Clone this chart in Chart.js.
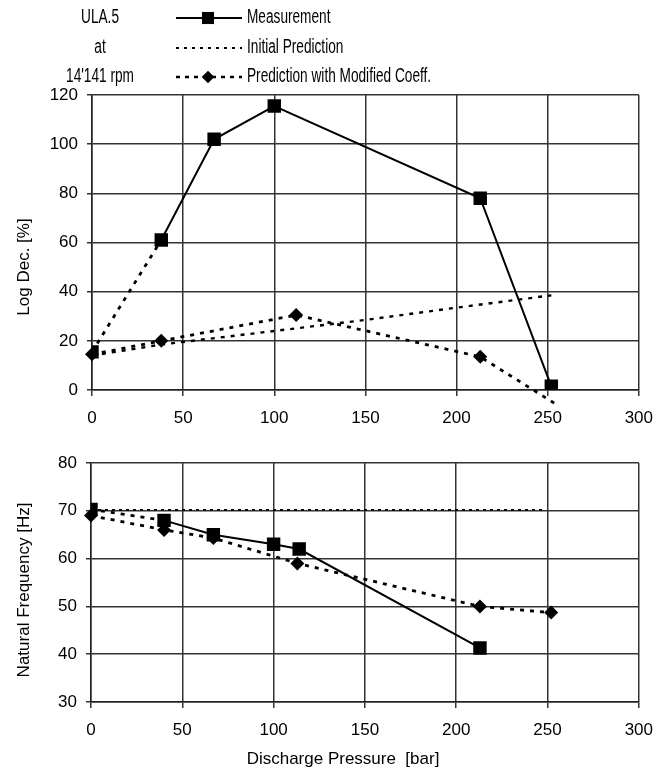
<!DOCTYPE html>
<html>
<head>
<meta charset="utf-8">
<script src="https://cdn.jsdelivr.net/npm/chart.js@4/dist/chart.umd.min.js"></script>
<style>
  html, body { margin: 0; padding: 0; background: #fff; }
  #wrap { position: relative; width: 665px; height: 771px; }
  canvas { position: absolute; left: 0; }
  #topChart { top: 0; }
  #bottomChart { top: 430px; }
</style>
</head>
<body>
<div id="wrap">
  <canvas id="topChart" width="665" height="430"></canvas>
  <canvas id="bottomChart" width="665" height="341"></canvas>
</div>
<script>
const FONT = '"Liberation Sans", Arial, sans-serif';

const xTicks = [0, 50, 100, 150, 200, 250, 300];
const logDecTicks = [0, 20, 40, 60, 80, 100, 120];
const freqTicks = [30, 40, 50, 60, 70, 80];

const headerLines = ['ULA.5', 'at', "14'141 rpm"];
const seriesNames = ['Measurement', 'Initial Prediction', 'Prediction with Modified Coeff.'];

// Log Dec. [%] vs discharge pressure [bar]
const measLogDec = [{x: 0, y: 15.5}, {x: 38, y: 61}, {x: 67, y: 102}, {x: 100, y: 115.5}, {x: 213, y: 78}, {x: 252, y: 1.5}];
const initLogDec = [{x: 0, y: 14}, {x: 38, y: 18.5}, {x: 100, y: 24}, {x: 150, y: 28.5}, {x: 200, y: 33.5}, {x: 252, y: 38.5}];
const modLogDec = [{x: 0, y: 14.5}, {x: 38, y: 20}, {x: 112, y: 30.5}, {x: 213, y: 13.5}, {x: 255, y: -6}];

// Natural frequency [Hz] vs discharge pressure [bar]
const measFreq = [{x: 0, y: 70.3}, {x: 40, y: 68}, {x: 67, y: 65}, {x: 100, y: 63}, {x: 114, y: 62}, {x: 213, y: 41.3}];
const initFreq = [{x: 0, y: 70.2}, {x: 248, y: 70.2}];
const modFreq = [{x: 0, y: 69}, {x: 40, y: 66}, {x: 67, y: 64.3}, {x: 113, y: 59}, {x: 213, y: 50}, {x: 252, y: 48.7}];

const tickFont = {family: FONT, size: 17};

function measSet(data) {
    return {
        label: seriesNames[0],
        data: data,
        borderColor: '#000',
        backgroundColor: '#000',
        borderWidth: 2,
        pointStyle: 'rect',
        pointRadius: 9.5,
        pointHoverRadius: 9.5,
        pointBorderWidth: 0,
        // first segment is drawn dotted in the original
        segment: {
            borderDash: c => c.p0DataIndex === 0 ? [4, 6] : undefined,
            borderWidth: c => c.p0DataIndex === 0 ? 2.8 : undefined
        },
        legendDash: [],
        legendWidth: 2
    };
}

function initSet(data, dash, width) {
    return {
        label: seriesNames[1],
        data: data,
        borderColor: '#000',
        borderWidth: width,
        borderDash: dash,
        pointRadius: 0,
        legendDash: [3, 5],
        legendWidth: 1.8
    };
}

function modSet(data, radii) {
    return {
        label: seriesNames[2],
        data: data,
        borderColor: '#000',
        backgroundColor: '#000',
        borderWidth: 2.8,
        borderDash: [4, 6],
        pointStyle: 'rectRot',
        pointRadius: radii,
        pointHoverRadius: radii,
        pointBorderWidth: 0,
        clip: false,
        legendDash: [4, 5],
        legendWidth: 2.4
    };
}

function scalesFor(yTicks, yWidth, xHeight) {
    return {
        x: {
            type: 'linear',
            min: 0,
            max: 300,
            afterBuildTicks: s => { s.ticks = xTicks.map(v => ({value: v})); },
            afterFit: s => { s.height = xHeight; },
            ticks: {color: '#000', font: tickFont, padding: 12, maxRotation: 0},
            grid: {color: '#333', lineWidth: 1.5, tickLength: 6},
            border: {color: '#222', width: 1.5}
        },
        y: {
            type: 'linear',
            min: yTicks[0],
            max: yTicks[yTicks.length - 1],
            afterBuildTicks: s => { s.ticks = yTicks.map(v => ({value: v})); },
            afterFit: s => { s.width = yWidth; },
            ticks: {color: '#000', font: tickFont, padding: 9},
            grid: {color: '#333', lineWidth: 1.5, tickLength: 5},
            border: {color: '#222', width: 1.5}
        }
    };
}

// squeeze = horizontal scale, the header/legend lettering is condensed
function text(ctx, str, x, y, align, rot, size, squeeze) {
    ctx.save();
    ctx.translate(x, y);
    if (rot) ctx.rotate(rot);
    if (squeeze) ctx.scale(squeeze, 1);
    ctx.font = (size || 17) + 'px ' + FONT;
    ctx.fillStyle = '#000';
    ctx.textAlign = align;
    ctx.textBaseline = 'middle';
    ctx.fillText(str, 0, 0);
    ctx.restore();
}

const headerPlugin = {
    id: 'header',
    afterDraw(chart) {
        const ctx = chart.ctx;
        const rows = [18, 48, 77];
        headerLines.forEach((t, i) => text(ctx, t, 100, rows[i], 'center', 0, 19.5, 0.7));
        chart.data.datasets.forEach((ds, i) => {
            const y = rows[i];
            ctx.save();
            ctx.strokeStyle = '#000';
            ctx.fillStyle = '#000';
            ctx.lineWidth = ds.legendWidth;
            ctx.setLineDash(ds.legendDash);
            ctx.beginPath();
            ctx.moveTo(176, y);
            ctx.lineTo(242, y);
            ctx.stroke();
            ctx.setLineDash([]);
            const r = Array.isArray(ds.pointRadius) ? ds.pointRadius[0] : ds.pointRadius;
            if (r > 0) {
                Chart.helpers.drawPoint(ctx, {pointStyle: ds.pointStyle, radius: r * 0.9, borderWidth: 0, rotation: 0}, 208, y);
            }
            ctx.restore();
            text(ctx, ds.label, 247, y, 'left', 0, 19.5, 0.7);
        });
        text(ctx, 'Log Dec. [%]', 24, 267, 'center', -Math.PI / 2);
    }
};

const bottomLabels = {
    id: 'bottomLabels',
    afterDraw(chart) {
        const ctx = chart.ctx;
        text(ctx, 'Natural Frequency [Hz]', 24, 160, 'center', -Math.PI / 2);
        text(ctx, 'Discharge Pressure  [bar]', 343, 329, 'center');
    }
};

const common = {
    responsive: false,
    animation: false,
    devicePixelRatio: 1,
    plugins: {legend: {display: false}, tooltip: {enabled: false}},
    events: []
};

new Chart(document.getElementById('topChart'), {
    type: 'line',
    data: {
        datasets: [
            measSet(measLogDec),
            initSet(initLogDec, [4, 6], 2.4),
            modSet(modLogDec, [7, 7, 7, 7, 0])
        ]
    },
    options: Object.assign({}, common, {
        layout: {padding: {top: 95, right: 22, left: 0, bottom: 0}},
        scales: scalesFor(logDecTicks, 92, 40)
    }),
    plugins: [headerPlugin]
});

new Chart(document.getElementById('bottomChart'), {
    type: 'line',
    data: {
        datasets: [
            measSet(measFreq),
            initSet(initFreq, [3, 4], 1.6),
            modSet(modFreq, 7)
        ]
    },
    options: Object.assign({}, common, {
        layout: {padding: {top: 33, right: 22, left: 0, bottom: 0}},
        scales: scalesFor(freqTicks, 91, 69)
    }),
    plugins: [bottomLabels]
});
</script>
</body>
</html>
